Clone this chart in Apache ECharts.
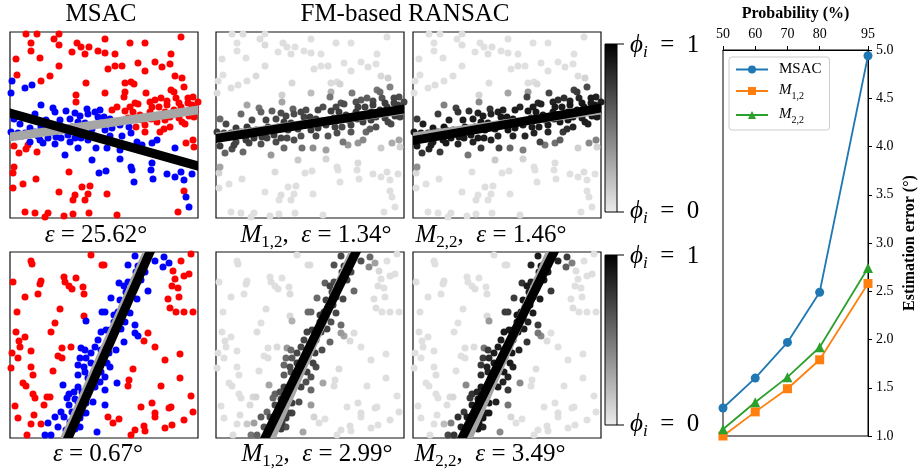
<!DOCTYPE html>
<html><head><meta charset="utf-8">
<script src="https://cdn.jsdelivr.net/npm/echarts@6/dist/echarts.min.js"></script>
<style>html,body{margin:0;padding:0;background:#fff}#c{width:919px;height:470px}</style>
</head><body><div id="c"></div>
<script>
// ---------- right-hand line chart ----------
const probability = [50, 60, 70, 80, 95];
const probTicks = [50, 60, 70, 80, 95];
const msacErr = [1.29, 1.60, 1.97, 2.49, 4.94];
const m12Err = [1.00, 1.25, 1.49, 1.79, 2.58];
const m22Err = [1.07, 1.35, 1.61, 1.92, 2.74];

// ---------- scatter panels: [x, y, phi(M1,2), phi(M2,2)] in panel units (0..188, 0..186 from top) ----------
const topOutliers = [
[16,2,.05,.05],[27,2,.06,.05],[49,2,.05,.06],[44,7,.06,.05],[21,11,.05,.05],[49,13,.07,.06],[21,19,.05,.05],[67,11,.06,.05],
[79,15,.05,.06],[71,15,.06,.05],[62,20,.05,.05],[75,22,.06,.06],[88,19,.05,.05],[6,27,.06,.05],[30,26,.05,.05],[49,34,.06,.05],
[40,44,.07,.06],[31,49,.06,.05],[7,43,.05,.05],[76,51,.08,.06],[66,63,.12,.1],[66,70,.3,.42],
[4,114,.74,.9],[18,113,.72,.88],[16,117,.68,.86],[9,121,.58,.78],[27,120,.56,.76],[4,135,.3,.4],[3,141,.1,.08],[59,140,.07,.05],
[26,147,.06,.05],[13,152,.05,.05],[3,156,.06,.05],[72,155,.05,.06],[80,154,.06,.05],[49,160,.05,.05],[65,163,.06,.05],[63,168,.05,.06],
[78,162,.05,.05],[75,168,.06,.05],[15,180,.05,.05],[25,181,.06,.05],[38,181,.05,.06],[35,185,.05,.05],[54,184,.06,.05],[63,182,.05,.05],[79,181,.06,.05],
[95,7,.05,.05],[120,11,.06,.05],[135,11,.05,.05],[171,5,.05,.06],[95,21,.06,.05],[105,22,.05,.05],[98,37,.06,.05],[105,34,.05,.06],
[112,34,.06,.05],[128,31,.05,.05],[135,39,.06,.05],[145,30,.05,.05],[152,35,.06,.06],[160,32,.05,.05],[161,22,.05,.05],[165,44,.08,.06],
[172,46,.12,.1],[115,51,.07,.06],[121,50,.06,.05],[124,52,.1,.08],[115,60,.25,.35],[95,61,.2,.3],[114,65,.5,.72],[136,61,.48,.7],
[161,58,.5,.72],[164,60,.55,.75],[174,55,.45,.68],[151,66,.6,.8],[157,69,.7,.86],[169,71,.74,.9],[178,66,.7,.88],[183,65,.68,.86],
[140,70,.66,.85],[125,71,.65,.84],[128,72,.68,.86],[107,75,.67,.85],[102,78,.7,.88],[115,79,.74,.9],[123,80,.75,.9],[142,75,.72,.89],
[149,75,.73,.9],[157,73,.74,.9],[164,78,.76,.92],[171,75,.75,.91],[178,71,.72,.89],[182,73,.73,.9],[185,76,.74,.9],[132,88,.74,.9],
[126,95,.7,.88],[135,93,.72,.89],[141,87,.76,.92],[147,90,.73,.9],[154,97,.6,.8],[150,100,.55,.76],[160,85,.75,.91],[169,86,.72,.88],
[172,90,.7,.87],[179,84,.74,.9],[184,85,.72,.89],[185,80,.76,.92],[183,108,.3,.45],[176,111,.28,.42],[184,115,.1,.1],[97,162,.05,.05],
[174,159,.06,.05],[168,180,.05,.05],[107,183,.05,.06],
[130,83,.75,.91],[140,80,.74,.9],[155,80,.75,.91],[170,80,.74,.9],[180,78,.76,.92],[135,100,.64,.84],[160,95,.66,.85],[175,92,.68,.86],
[120,75,.7,.88],[145,68,.62,.82],[166,66,.64,.84],[188,70,.7,.88],[155,88,.74,.9],[118,86,.74,.9]
];
const topInliers = [
[2,49,.06,.05],[1,61,.07,.05],[15,56,.06,.05],[22,53,.06,.06],[31,73,.3,.45],[25,82,.55,.75],[43,76,.5,.72],[45,80,.58,.78],
[56,79,.6,.8],[65,81,.68,.86],[70,84,.7,.88],[77,77,.58,.78],[78,82,.68,.86],[85,80,.7,.88],[88,85,.72,.9],[4,87,.55,.76],
[1,100,.74,.9],[8,101,.75,.91],[15,101,.74,.9],[25,100,.76,.92],[33,98,.75,.91],[30,108,.74,.9],[33,111,.72,.89],[38,106,.75,.91],
[46,105,.74,.9],[51,106,.73,.9],[58,103,.75,.91],[65,106,.72,.89],[71,106,.7,.88],[78,108,.68,.86],[68,116,.56,.76],[86,116,.52,.72],
[55,123,.35,.5],[82,128,.15,.15],[89,141,.06,.05],[31,95,.76,.92],[50,88,.72,.89],[60,87,.7,.88],[68,90,.74,.9],[75,91,.75,.91],[40,98,.76,.92],
[94,85,.74,.9],[100,87,.75,.91],[95,98,.76,.92],[102,96,.75,.91],[110,93,.74,.9],[119,95,.72,.89],[121,101,.68,.86],[127,110,.5,.72],
[132,113,.35,.5],[142,111,.36,.52],[147,108,.42,.6],[97,116,.4,.56],[110,118,.32,.46],[110,127,.1,.1],[96,139,.06,.05],[121,135,.06,.05],
[122,138,.05,.05],[142,131,.07,.06],[141,138,.06,.05],[143,147,.05,.05],[124,150,.05,.05],[157,142,.06,.05],[165,145,.05,.05],[171,140,.06,.06],
[174,148,.05,.05],[182,142,.06,.05],[176,165,.05,.05],[179,175,.05,.05],[165,116,.14,.12],
[12,104,.75,.91],[20,96,.74,.9],[28,104,.72,.89],[42,100,.75,.91],[55,98,.74,.9],[62,95,.73,.9],[90,92,.75,.91],[105,90,.74,.9],
[20,110,.7,.88],[45,112,.66,.85],[60,110,.68,.86],[85,104,.66,.85],[100,104,.68,.86],[90,78,.68,.86],[10,92,.7,.88],[52,95,.75,.91],
[82,97,.74,.9],[112,104,.64,.84],[36,88,.68,.86],[72,98,.75,.91]
];
const bottomOutliers = [
[21,9,.05,.05],[22,12,.06,.05],[3,30,.05,.05],[31,29,.05,.06],[30,32,.06,.05],[54,25,.05,.05],[55,30,.06,.05],[59,34,.05,.05],
[62,37,.06,.06],[66,26,.05,.05],[73,35,.06,.05],[74,42,.07,.06],[28,42,.05,.05],[15,45,.06,.05],[81,3,.05,.05],[92,13,.07,.06],
[7,60,.05,.05],[50,57,.06,.05],[74,64,.08,.07],[45,71,.05,.05],[41,80,.06,.05],[6,80,.05,.06],[15,85,.05,.05],[9,89,.06,.05],
[10,95,.05,.05],[2,101,.06,.05],[21,99,.05,.05],[52,96,.06,.06],[61,95,.07,.06],[48,104,.05,.05],[52,106,.06,.05],[8,106,.05,.05],
[1,116,.06,.05],[21,115,.05,.05],[23,123,.05,.06],[43,119,.06,.05],[13,131,.05,.05],[16,134,.06,.05],[23,142,.05,.05],[25,146,.06,.05],
[37,145,.08,.07],[40,145,.1,.09],[34,153,.07,.06],[5,154,.05,.05],[24,163,.06,.05],[8,166,.05,.05],[21,172,.06,.05],[31,172,.15,.2],[17,183,.06,.05],
[94,13,.06,.05],[171,9,.05,.05],[181,2,.06,.05],[163,19,.08,.06],[165,27,.05,.05],[174,24,.06,.05],[179,22,.05,.06],[162,34,.06,.05],
[168,36,.05,.05],[158,47,.06,.05],[169,45,.05,.05],[160,56,.06,.06],[166,60,.05,.05],[174,60,.06,.05],[183,60,.05,.05],[134,89,.07,.06],
[138,81,.06,.05],[145,95,.05,.05],[155,108,.06,.05],[170,102,.05,.05],[123,117,.07,.06],[119,128,.06,.05],[118,134,.06,.05],[151,134,.05,.05],
[170,126,.06,.05],[181,144,.05,.05],[142,151,.06,.05],[131,155,.05,.05],[145,161,.06,.06],[145,165,.05,.05],[159,156,.06,.05],[161,155,.05,.05],
[183,160,.06,.05],[98,165,.1,.09],[103,171,.06,.05],[109,167,.05,.05],[125,178,.06,.05],[121,183,.05,.05],[134,174,.06,.05],[135,179,.05,.06],
[155,176,.06,.05],[162,173,.05,.05],[174,168,.06,.05]
];
const bottomInliers = [
[76,69,.25,.35],[92,60,.55,.75],[91,80,.72,.89],[88,88,.7,.88],[71,96,.35,.5],[75,98,.55,.76],[81,101,.7,.88],[70,106,.55,.75],
[76,106,.62,.82],[68,113,.56,.76],[74,115,.68,.86],[81,111,.74,.9],[68,123,.6,.8],[78,126,.76,.92],[53,133,.3,.42],[68,135,.72,.89],
[59,142,.58,.78],[57,146,.56,.76],[65,147,.74,.9],[76,151,.74,.9],[83,150,.68,.86],[59,153,.7,.88],[51,160,.56,.76],[54,165,.7,.88],
[73,161,.74,.9],[76,161,.72,.89],[70,166,.75,.91],[66,171,.76,.92],[38,171,.32,.46],[48,175,.66,.85],[65,177,.75,.91],[35,183,.5,.7],
[41,183,.58,.78],[87,180,.3,.42],[91,98,.76,.92],[85,135,.72,.89],[91,120,.72,.89],
[125,4,.7,.88],[118,13,.66,.85],[128,14,.75,.91],[132,11,.76,.92],[145,9,.66,.85],[154,5,.55,.75],[159,11,.32,.46],[153,15,.42,.6],
[109,31,.58,.78],[114,34,.72,.89],[124,28,.75,.91],[131,28,.72,.89],[138,39,.56,.76],[101,46,.55,.75],[110,48,.74,.9],[120,45,.76,.92],
[127,47,.7,.88],[95,60,.55,.75],[104,63,.75,.91],[110,66,.76,.92],[117,53,.75,.91],[120,61,.7,.88],[125,73,.55,.75],[125,81,.35,.5],
[128,84,.3,.42],[114,90,.58,.78],[105,80,.75,.91],[96,78,.74,.9],[106,98,.68,.86],[99,101,.74,.9],[97,111,.72,.89],[95,125,.66,.85],
[107,131,.3,.42],[95,138,.56,.76],[95,153,.35,.5],[100,78,.76,.92],[111,77,.72,.89],
[62,160,.74,.9],[68,150,.75,.91],[72,140,.74,.9],[80,130,.72,.89],[84,120,.75,.91],[88,110,.74,.9],[92,105,.72,.89],[96,95,.75,.91],
[100,88,.74,.9],[104,70,.76,.92],[108,60,.74,.9],[112,55,.75,.91],[116,40,.72,.89],[122,35,.74,.9],[126,20,.75,.91],[135,20,.7,.88],
[60,170,.72,.89],[56,178,.74,.9],[70,175,.66,.85],[45,165,.6,.8],[100,115,.68,.86],[90,130,.66,.85],[64,140,.66,.85],[75,120,.66,.85],
[85,95,.7,.88],[115,70,.66,.85],[118,30,.68,.86]
];

// fitted lines [x1, y1, x2, y2] in panel units
const topTruthLine = [0, 105, 188, 78];
const topMsacLine = [0, 81, 188, 134];
const topM12Line = [0, 106.5, 188, 77];
const topM22Line = [0, 108.5, 188, 76];
const botTruthLine = [55, 186, 137.5, 0];
const botMsacLine = [58, 186, 140, 0];
const botM12Line = [49, 186, 140, 0];
const botM22Line = [49, 186, 141, 0];

// text
const topErrLabels = ['25.62', '1.34', '1.46'];
const botErrLabels = ['0.67', '2.99', '3.49'];

// ---------- build ----------
const FONT = '"Liberation Serif", "DejaVu Serif", serif';
const chart = echarts.init(document.getElementById('c'));

const panelPos = [[10,32],[216,32],[413,32],[10,252],[216,252],[413,252]];
const PW = 188, PH = 186;
const grids = panelPos.map(p => ({left:p[0], top:p[1], width:PW, height:PH, show:true, borderColor:'#111', borderWidth:1.2, backgroundColor:'#fff'}));
grids.push({left:723, top:50, width:148, height:386, show:true, borderColor:'#000', borderWidth:1});

const xAxes = panelPos.map((p,i) => ({gridIndex:i, type:'value', min:0, max:PW, show:false}));
const yAxes = panelPos.map((p,i) => ({gridIndex:i, type:'value', min:0, max:PH, inverse:true, show:false}));
const axisCommon = {
  axisLine:{show:true, onZero:false, lineStyle:{color:'#000', width:1}},
  splitLine:{show:false}
};
xAxes.push(Object.assign({}, axisCommon, {
  gridIndex:6, type:'value', position:'top', min:50, max:95,
  axisTick:{show:true, length:4, customValues:probTicks, lineStyle:{color:'#000'}},
  axisLabel:{customValues:probTicks, color:'#000', fontFamily:FONT, fontSize:14, margin:9},
  name:'Probability (%)', nameLocation:'middle', nameGap:26,
  nameTextStyle:{fontFamily:FONT, fontWeight:'bold', fontSize:16, color:'#000'}
}));
yAxes.push(Object.assign({}, axisCommon, {
  gridIndex:6, type:'value', position:'right', min:1, max:5, interval:0.5,
  axisTick:{show:true, length:4, lineStyle:{color:'#000'}},
  axisLabel:{color:'#000', fontFamily:FONT, fontSize:14, margin:8, formatter:v => v.toFixed(1)},
  name:'Estimation error (°)', nameLocation:'middle', nameRotate:90, nameGap:34,
  nameTextStyle:{fontFamily:FONT, fontWeight:'bold', fontSize:16, color:'#000'}
}));

const series = [];
function segSeries(gi, seg, color, width, z) {
  return {type:'custom', xAxisIndex:gi, yAxisIndex:gi, clip:true, silent:true, z:z,
    data:[seg], encode:{x:[0,2], y:[1,3]},
    renderItem:(params, api) => {
      const a = api.coord([api.value(0), api.value(1)]);
      const b = api.coord([api.value(2), api.value(3)]);
      return {type:'line', shape:{x1:a[0], y1:a[1], x2:b[0], y2:b[1]},
        style:{stroke:color, lineWidth:width, lineCap:'square'}};
    }};
}
const PT = 7;
function msacPanel(gi, outl, inl) {
  series.push({type:'scatter', xAxisIndex:gi, yAxisIndex:gi, silent:true, z:2, symbolSize:PT,
    itemStyle:{color:'#ff0000', opacity:1}, data:outl.map(p => [p[0], p[1]])});
  series.push({type:'scatter', xAxisIndex:gi, yAxisIndex:gi, silent:true, z:2, symbolSize:PT,
    itemStyle:{color:'#0000ff', opacity:1}, data:inl.map(p => [p[0], p[1]])});
}
const fm12Idx = [], fm22Idx = [];
function fmPanel(gi, pts, dim, idxList) {
  const d = pts.slice().sort((a,b) => a[dim] - b[dim]);
  idxList.push(series.length);
  series.push({type:'scatter', xAxisIndex:gi, yAxisIndex:gi, silent:true, z:2, symbolSize:PT,
    itemStyle:{opacity:1}, encode:{x:0, y:1}, data:d});
}
const topAll = topOutliers.concat(topInliers);
const botAll = bottomOutliers.concat(bottomInliers);

msacPanel(0, topOutliers, topInliers);
series.push(segSeries(0, topTruthLine, '#a6a6a6', 9, 3));
series.push(segSeries(0, topMsacLine, '#000', 9, 4));
fmPanel(1, topAll, 2, fm12Idx);
series.push(segSeries(1, topTruthLine, '#a6a6a6', 9, 3));
series.push(segSeries(1, topM12Line, '#000', 9, 4));
fmPanel(2, topAll, 3, fm22Idx);
series.push(segSeries(2, topTruthLine, '#a6a6a6', 9, 3));
series.push(segSeries(2, topM22Line, '#000', 9, 4));

msacPanel(3, bottomOutliers, bottomInliers);
series.push(segSeries(3, botTruthLine, '#a6a6a6', 9, 3));
series.push(segSeries(3, botMsacLine, '#000', 9, 4));
fmPanel(4, botAll, 2, fm12Idx);
series.push(segSeries(4, botTruthLine, '#a6a6a6', 9, 3));
series.push(segSeries(4, botM12Line, '#000', 9, 4));
fmPanel(5, botAll, 3, fm22Idx);
series.push(segSeries(5, botTruthLine, '#a6a6a6', 9, 3));
series.push(segSeries(5, botM22Line, '#000', 9, 4));

const lineDefs = [
  ['MSAC', msacErr, '#1f77b4', 'circle', 9],
  ['M12', m12Err, '#ff7f0e', 'rect', 9],
  ['M22', m22Err, '#2ca02c', 'triangle', 10]
];
lineDefs.forEach(d => {
  series.push({type:'line', name:d[0], xAxisIndex:6, yAxisIndex:6, symbol:d[3], symbolSize:d[4],
    showAllSymbol:true, silent:true, z:3,
    lineStyle:{color:d[2], width:1.8}, itemStyle:{color:d[2]},
    data:probability.map((p,i) => [p, d[1][i]])});
});

const FS = 25;
const rich = {
  r:{fontFamily:FONT, fontSize:FS, lineHeight:26, verticalAlign:'top', color:'#000'},
  i:{fontFamily:FONT, fontSize:FS, lineHeight:26, fontStyle:'italic', verticalAlign:'top', color:'#000'},
  s:{fontFamily:FONT, fontSize:17, lineHeight:17, padding:[11,0,0,0], verticalAlign:'top', color:'#000'},
  si:{fontFamily:FONT, fontSize:17, lineHeight:17, fontStyle:'italic', padding:[11,0,0,0], verticalAlign:'top', color:'#000'}
};
function txt(x, y, text, align) {
  return {type:'text', x:x, y:y, silent:true, z:10,
    style:{text:text, align:align || 'center', verticalAlign:'middle', rich:rich, fontFamily:FONT, fontSize:FS, fill:'#000'}};
}
const graphics = [];
graphics.push(txt(101, 15, '{r|MSAC}'));
graphics.push(txt(405, 15, '{r|FM-based RANSAC}'));
graphics.push(txt(96, 236, '{i|ε}{r| = ' + topErrLabels[0] + '°}'));
graphics.push(txt(316, 236, '{i|M}{s|1,2}{r|,  }{i|ε}{r| = ' + topErrLabels[1] + '°}'));
graphics.push(txt(491, 236, '{i|M}{s|2,2}{r|,  }{i|ε}{r| = ' + topErrLabels[2] + '°}'));
graphics.push(txt(98, 455, '{i|ε}{r| = ' + botErrLabels[0] + '°}'));
graphics.push(txt(317, 455, '{i|M}{s|1,2}{r|,  }{i|ε}{r| = ' + botErrLabels[1] + '°}'));
graphics.push(txt(490, 455, '{i|M}{s|2,2}{r|,  }{i|ε}{r| = ' + botErrLabels[2] + '°}'));

// colorbars
[[44, 212], [255, 425]].forEach(cb => {
  graphics.push({type:'rect', silent:true, z:5, shape:{x:605, y:cb[0], width:12, height:cb[1]-cb[0]},
    style:{fill:{type:'linear', x:0, y:0, x2:0, y2:1, colorStops:[{offset:0, color:'#000'}, {offset:1, color:'#ececec'}]},
      stroke:'#000', lineWidth:1}});
  graphics.push({type:'line', silent:true, z:5, shape:{x1:617, y1:cb[0], x2:624, y2:cb[0]}, style:{stroke:'#000', lineWidth:1}});
  graphics.push({type:'line', silent:true, z:5, shape:{x1:617, y1:cb[1], x2:624, y2:cb[1]}, style:{stroke:'#000', lineWidth:1}});
  graphics.push(txt(630, cb[0] + 2, '{i|ϕ}{si|i}{r|  =  1}', 'left'));
  graphics.push(txt(630, cb[1], '{i|ϕ}{si|i}{r|  =  0}', 'left'));
});

const legendRich = {
  n:{fontFamily:FONT, fontSize:15, color:'#000', padding:[0,0,0,6]},
  i:{fontFamily:FONT, fontSize:15, fontStyle:'italic', color:'#000', verticalAlign:'top', lineHeight:16, padding:[0,0,0,6]},
  s:{fontFamily:FONT, fontSize:10, color:'#000', verticalAlign:'top', lineHeight:10, padding:[8,0,0,0]}
};

chart.setOption({
  animation:false,
  backgroundColor:'#fff',
  grid:grids,
  xAxis:xAxes,
  yAxis:yAxes,
  visualMap:[
    {type:'continuous', show:false, min:0, max:1, dimension:2, seriesIndex:fm12Idx, inRange:{color:['#ececec', '#000000']}},
    {type:'continuous', show:false, min:0, max:1, dimension:3, seriesIndex:fm22Idx, inRange:{color:['#ececec', '#000000']}}
  ],
  legend:{
    data:['MSAC', 'M12', 'M22'], orient:'vertical', left:729, top:57,
    padding:[5, 8, 5, 6], itemGap:6, itemWidth:32, itemHeight:10,
    borderColor:'#cccccc', borderWidth:1, borderRadius:3, backgroundColor:'#fff',
    textStyle:{fontFamily:FONT, fontSize:15, color:'#000', rich:legendRich},
    formatter:n => n === 'MSAC' ? '{n|MSAC}' : (n === 'M12' ? '{i|M}{s|1,2}' : '{i|M}{s|2,2}')
  },
  graphic:graphics,
  series:series
});
</script></body></html>
